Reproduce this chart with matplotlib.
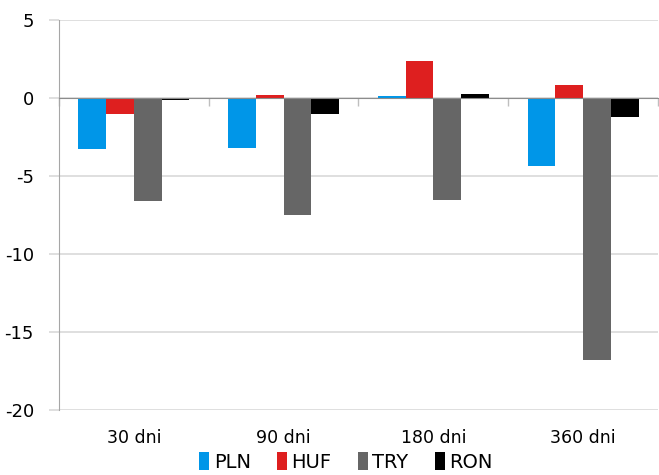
import matplotlib.pyplot as plt
import numpy as np

categories = ["30 dni", "90 dni", "180 dni", "360 dni"]
series = ["PLN", "HUF", "TRY", "RON"]
pln = [-3.25, -3.18, 0.12, -4.35]
huf = [-1.0, 0.2, 2.4, 0.8]
tryl = [-6.6, -7.5, -6.55, -16.8]
ron = [-0.12, -1.05, 0.25, -1.25]
colors = ["#0096e8", "#de1f1f", "#666666", "#000000"]

plt.rcParams['font.family'] = ['DejaVu Sans']
plt.rcParams['axes.unicode_minus'] = False

fig = plt.figure(figsize=(6.59, 4.75), dpi=100)
ax = fig.add_axes([0.0895, 0.137, 0.909, 0.821])

x = np.arange(len(categories))
w = 0.185
values = [pln, huf, tryl, ron]
for i, (name, vals) in enumerate(zip(series, values)):
    ax.bar(x + (i - 1.5) * w, vals, w, color=colors[i], label=name, zorder=3)

ax.set_xlim(-0.5, len(categories) - 0.5)
ax.set_ylim(-20, 5)
ax.set_yticks(np.arange(-20, 6, 5))
ax.yaxis.grid(True, color="#d9d9d9", linewidth=1.2, zorder=0)
ax.tick_params(axis='y', length=7, color="#d9d9d9", width=1.2, labelsize=13, pad=11)

for s in ["top", "right"]:
    ax.spines[s].set_visible(False)
ax.spines["left"].set_color("#a6a6a6")
ax.spines["bottom"].set_position(("data", 0))
ax.spines["bottom"].set_color("#8c8c8c")
ax.spines["bottom"].set_zorder(4)

# small ticks at category boundaries on the zero line
ax.set_xticks(np.arange(-0.5, len(categories), 1.0))
ax.set_xticklabels([])
ax.tick_params(axis='x', length=6, color="#bfbfbf", width=1)

sec = ax.secondary_xaxis(0)
sec.set_xticks(x)
sec.set_xticklabels(categories)
sec.tick_params(length=0, labelsize=12.5, pad=14)
sec.spines["bottom"].set_visible(False)

fig.legend(loc="lower center", bbox_to_anchor=(0.525, -0.03), ncol=4, frameon=False,
           fontsize=14, handlelength=0.5, handleheight=1.1, handletextpad=0.25,
           columnspacing=1.35)

fig.savefig("out.png", dpi=100)
